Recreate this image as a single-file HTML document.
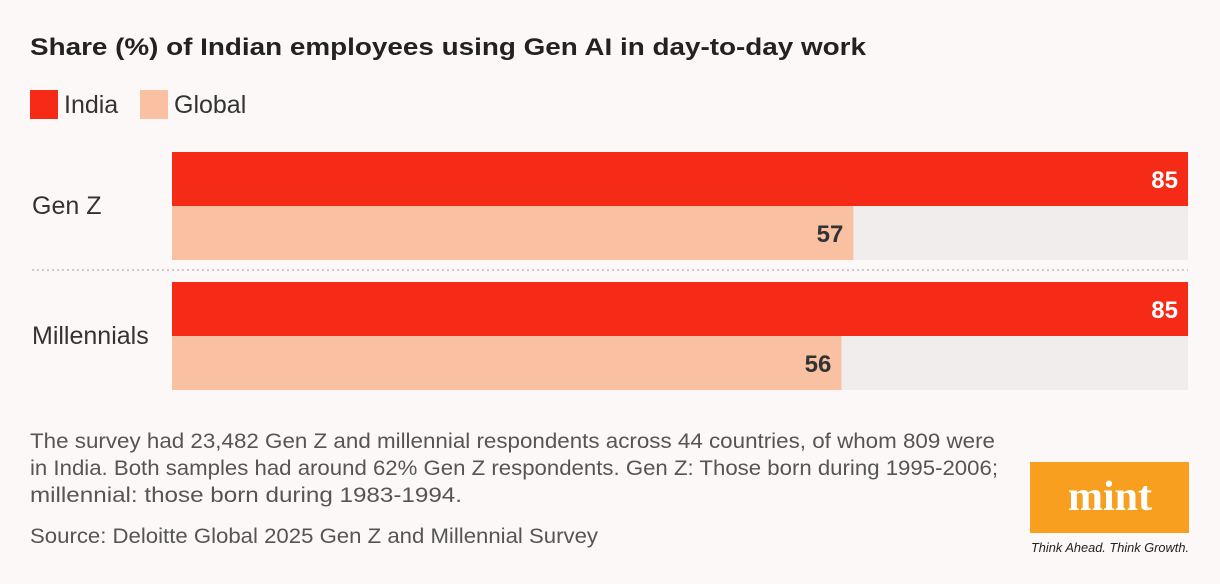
<!DOCTYPE html>
<html><head><meta charset="utf-8"><style>
html,body{margin:0;padding:0;background:#fdf8f8;width:1220px;height:584px;overflow:hidden;font-family:"Liberation Sans",sans-serif;}
</style></head><body>
<svg width="1220" height="584" xmlns="http://www.w3.org/2000/svg">
<rect width="1220" height="584" fill="#fdf8f8"/>
<text x="30" y="55" font-size="24" font-weight="bold" fill="#222" textLength="836" lengthAdjust="spacingAndGlyphs">Share (%) of Indian employees using Gen AI in day-to-day work</text>
<g>
<rect x="30" y="90" width="28" height="29" fill="#f52a17"/>
<text x="64" y="113" font-size="25" fill="#333">India</text>
<rect x="140" y="90" width="28" height="29" fill="#f9c0a2"/>
<text x="174" y="113" font-size="25" fill="#333">Global</text>
</g>
<g id="bars"></g>
<line x1="32" y1="270" x2="1188" y2="270" stroke="#bbb" stroke-width="1.5" stroke-dasharray="2,3"/>
<g font-size="21" fill="#555">
<text x="30" y="448" textLength="965" lengthAdjust="spacingAndGlyphs">The survey had 23,482 Gen Z and millennial respondents across 44 countries, of whom 809 were</text>
<text x="30" y="475" textLength="968" lengthAdjust="spacingAndGlyphs">in India. Both samples had around 62% Gen Z respondents. Gen Z: Those born during 1995-2006;</text>
<text x="30" y="502" textLength="432" lengthAdjust="spacingAndGlyphs">millennial: those born during 1983-1994.</text>
<text x="30" y="543" textLength="568" lengthAdjust="spacingAndGlyphs">Source: Deloitte Global 2025 Gen Z and Millennial Survey</text>
</g>
<g>
<rect x="1030" y="462" width="159" height="71" fill="#f89f1f"/>
<text x="1110" y="510" font-family="Liberation Serif,serif" font-weight="bold" font-size="42" fill="#fff" text-anchor="middle">mint</text>
<text x="1110" y="552" font-size="13" font-style="italic" fill="#222" text-anchor="middle" textLength="158" lengthAdjust="spacingAndGlyphs">Think Ahead. Think Growth.</text>
</g>
</svg>
<script>
const categories = ["Gen Z", "Millennials"];
const indiaValues = [85, 85];
const globalValues = [57, 56];
const xMax = 85;
const x0 = 172, x1 = 1188;
function xs(v){ return x0 + (v / xMax) * (x1 - x0); }
const ns = "http://www.w3.org/2000/svg";
const g = document.getElementById('bars');
function mk(tag, attrs){ const e = document.createElementNS(ns, tag); for (const k in attrs) e.setAttribute(k, attrs[k]); g.appendChild(e); return e; }
categories.forEach((c, i) => {
  const top = 152 + i * 130;
  const bg = mk('rect', {x: x0, y: top + 54, width: x1 - x0, height: 54, fill: '#f2eded'});
  
  
  const lab = mk('text', {x: 32, y: top + 62, 'font-size': 25, fill: '#333'});
  lab.textContent = c;
  
  
  const bi = mk('rect', {x: x0, y: top, width: xs(indiaValues[i]) - x0, height: 54, fill: '#f52a17'});
  
  
  const ti = mk('text', {x: xs(indiaValues[i]) - 10, y: top + 36, 'font-size': 24, 'font-weight': 'bold', fill: '#fff', 'text-anchor': 'end'});
  ti.textContent = indiaValues[i];
  
  
  const bgl = mk('rect', {x: x0, y: top + 54, width: xs(globalValues[i]) - x0, height: 54, fill: '#f9c0a2'});
  
  
  const tg = mk('text', {x: xs(globalValues[i]) - 10, y: top + 90, 'font-size': 24, 'font-weight': 'bold', fill: '#333', 'text-anchor': 'end'});
  tg.textContent = globalValues[i];
  
  
});
</script>
</body></html>
